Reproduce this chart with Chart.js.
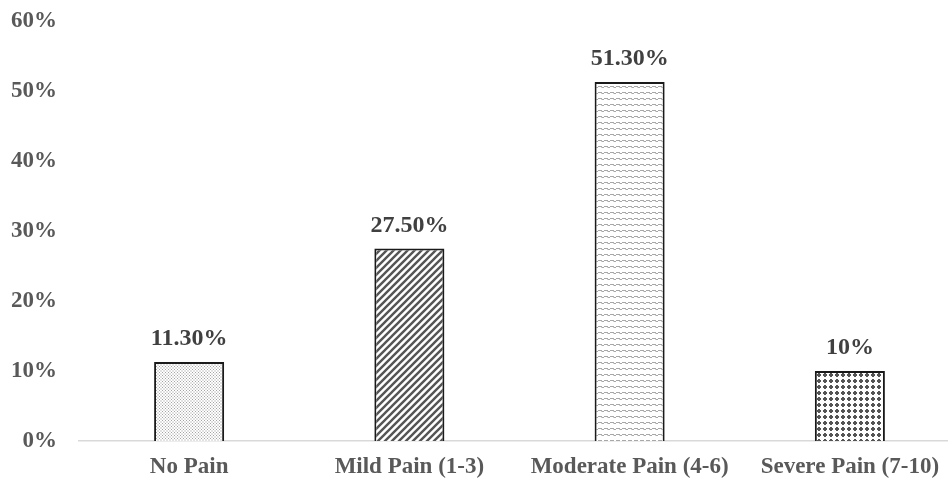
<!DOCTYPE html>
<html>
<head>
<meta charset="utf-8">
<script src="https://cdn.jsdelivr.net/npm/chart.js@4"></script>
<style>
  html, body { margin: 0; padding: 0; background: #fff; overflow: hidden; }
  #wrap { width: 960px; height: 482px; }
</style>
</head>
<body>
<div id="wrap"><canvas id="painChart"></canvas></div>
<script>
// data
const categories = ['No Pain', 'Mild Pain (1-3)', 'Moderate Pain (4-6)', 'Severe Pain (7-10)'];
const shares = [11.3, 27.5, 51.3, 10];
const shareLabels = ['11.30%', '27.50%', '51.30%', '10%'];
const yTicks = [0, 10, 20, 30, 40, 50, 60];

const FONT = '"Liberation Serif", "Times New Roman", serif';

// --- fill patterns, one per bar ---
function makeTile(w, h, draw) {
    const c = document.createElement('canvas');
    c.width = w; c.height = h;
    const g = c.getContext('2d');
    g.fillStyle = '#fff';
    g.fillRect(0, 0, w, h);
    draw(g);
    return document.createElement('canvas').getContext('2d').createPattern(c, 'repeat');
}

const dotFill = makeTile(3, 3, g => {
    g.fillStyle = '#a4a4a4';
    g.fillRect(0, 0, 1, 1);
    g.fillStyle = '#e2e2e2';
    g.fillRect(1, 1, 2, 2);
});

const stripeFill = makeTile(7, 7, g => {
    g.strokeStyle = '#555';
    g.lineWidth = 2.4;
    g.beginPath();
    g.moveTo(-1, 8); g.lineTo(8, -1);
    g.moveTo(-4, 4); g.lineTo(4, -4);
    g.moveTo(3, 11); g.lineTo(11, 3);
    g.stroke();
});

const dashFill = makeTile(6, 6, g => {
    g.fillStyle = '#a8a8a8';
    g.fillRect(0, 2, 2, 1);
    g.fillRect(2, 3, 2, 1);
    g.fillRect(4, 2, 2, 1);
    g.fillStyle = '#cfcfcf';
    g.fillRect(1, 3, 1, 1);
});

const diamondFill = makeTile(6, 6, g => {
    g.fillStyle = '#555';
    g.fillRect(2, 1, 2, 4);
    g.fillRect(1, 2, 4, 2);
});

const fills = [dotFill, stripeFill, dashFill, diamondFill];

// value labels above bars
const barLabels = {
    id: 'barLabels',
    afterDatasetsDraw(chart) {
        const ctx = chart.ctx;
        const meta = chart.getDatasetMeta(0);
        ctx.save();
        ctx.font = 'bold 24px ' + FONT;
        ctx.fillStyle = '#404040';
        ctx.textAlign = 'center';
        ctx.textBaseline = 'bottom';
        meta.data.forEach((bar, i) => {
            ctx.fillText(shareLabels[i], bar.x, bar.y - 11);
        });
        ctx.restore();
    }
};

new Chart(document.getElementById('painChart'), {
    type: 'bar',
    data: {
        labels: categories,
        datasets: [{
            data: shares,
            backgroundColor: fills,
            borderColor: '#1a1a1a',
            borderWidth: 2,
            borderSkipped: 'bottom',
            barPercentage: 0.318,
            categoryPercentage: 1
        }]
    },
    options: {
        responsive: true,
        maintainAspectRatio: false,
        animation: false,
        layout: { padding: { top: 21, right: 0, bottom: 0, left: 0 } },
        plugins: { legend: { display: false }, tooltip: { enabled: false } },
        scales: {
            x: {
                grid: { display: false, drawTicks: false },
                border: { color: '#d9d9d9', width: 1.5 },
                ticks: { color: '#595959', padding: 12, font: { family: FONT, size: 23, weight: 'bold' } },
                afterFit: s => { s.height = 41; s.paddingLeft = 0; s.paddingRight = 0; }
            },
            y: {
                min: 0,
                max: 60,
                afterBuildTicks: s => { s.ticks = yTicks.map(v => ({ value: v })); },
                grid: { display: false, drawTicks: false },
                border: { display: false },
                ticks: {
                    color: '#595959',
                    padding: 22,
                    font: { family: FONT, size: 23, weight: 'bold' },
                    callback: v => v + '%'
                },
                afterFit: s => { s.width = 79; s.paddingTop = 0; s.paddingBottom = 0; }
            }
        }
    },
    plugins: [barLabels]
});
</script>
</body>
</html>
